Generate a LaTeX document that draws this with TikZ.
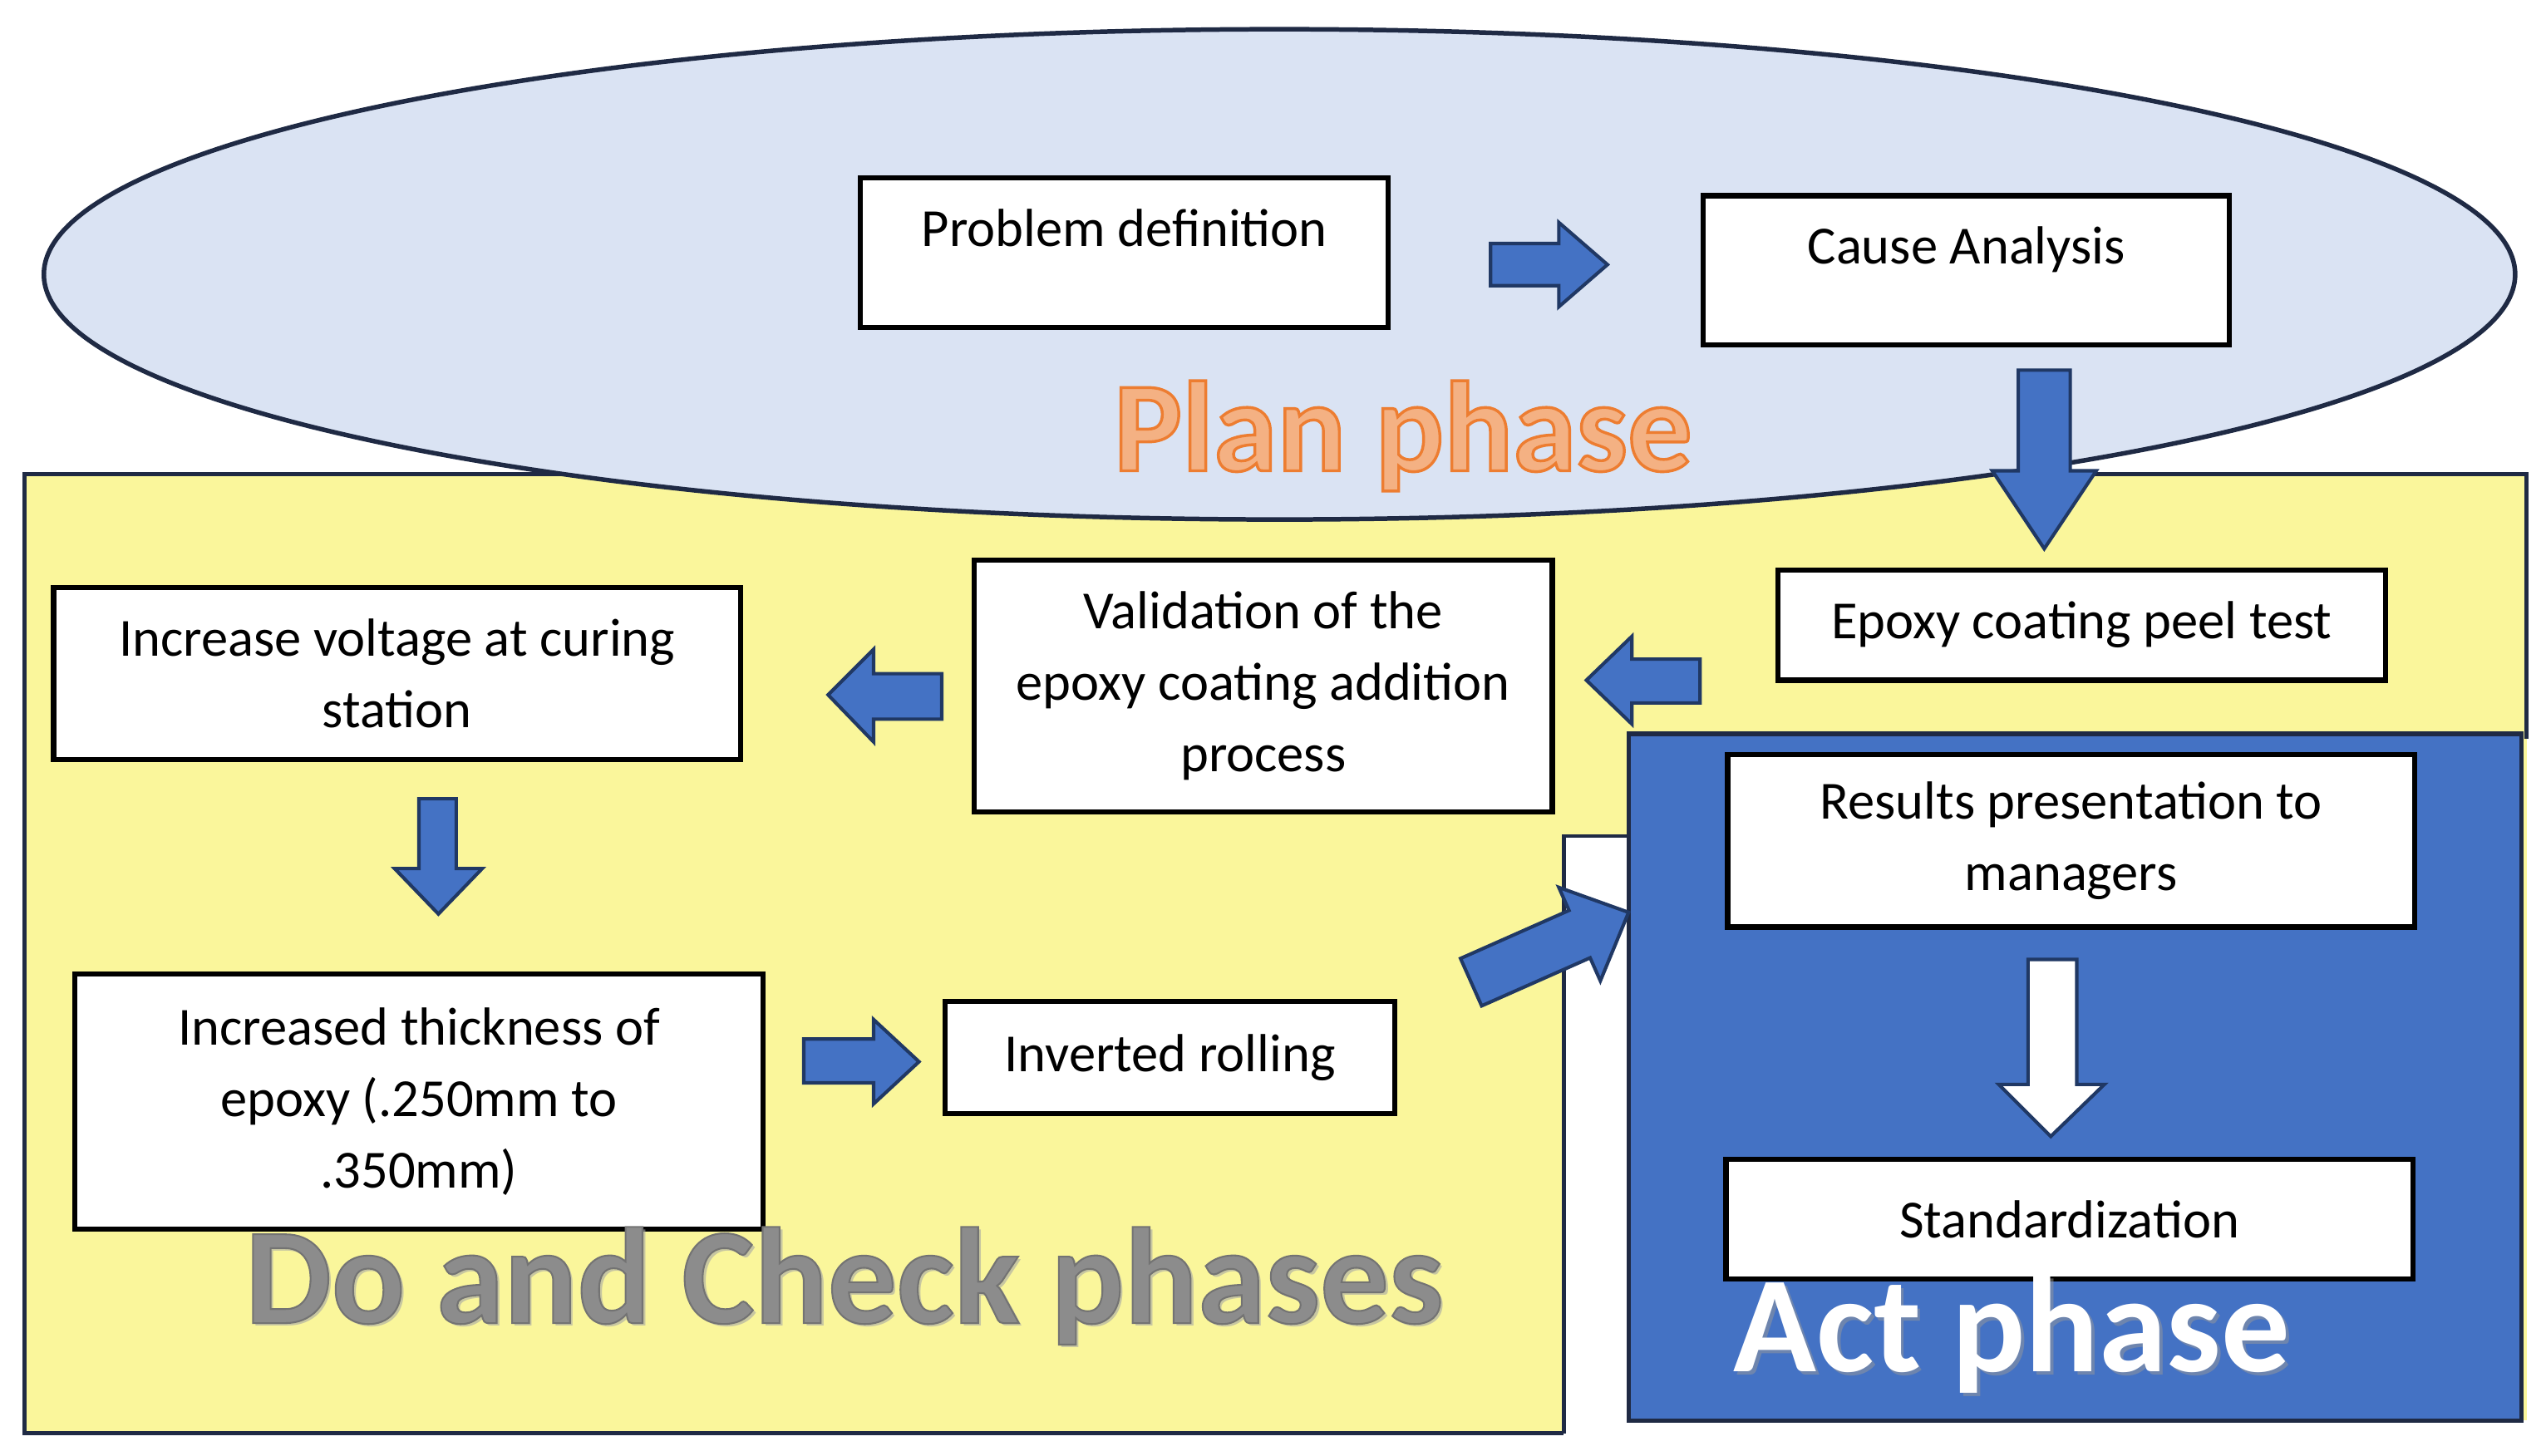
\documentclass[tikz,border=0pt]{standalone}
\usepackage{fontspec}
\setmainfont{Carlito}
\definecolor{ellfill}{HTML}{DAE3F3}
\definecolor{navy}{HTML}{1F2A44}
\definecolor{yel}{HTML}{FAF69B}
\definecolor{actblue}{HTML}{4472C4}
\definecolor{arrline}{HTML}{203864}
\definecolor{planfill}{HTML}{F4B183}
\definecolor{dogray}{HTML}{8C8C8C}
\newcommand{\strokedtext}[3]{\special{pdf:literal direct #1 RG #2 w 2 Tr}#3\special{pdf:literal direct 0 Tr}}
\begin{document}
\begin{tikzpicture}[x=0.1mm,y=-0.1mm,
  stepbox/.style={draw=black,line width=0.9pt,fill=white,align=center,inner sep=0pt,
    font=\fontsize{9.4}{12.5}\selectfont},
  topbox/.style={stepbox,text height=4.2mm,text depth=5.0mm,anchor=north},
  barrow/.style={fill=actblue,draw=arrline,line width=0.6pt,line join=miter},
  warrow/.style={fill=white,draw=arrline,line width=0.6pt,line join=miter},
  bigtext/.style={anchor=base,inner sep=0pt,font=\fontsize{24}{28}\selectfont\bfseries}]
\useasboundingbox (0,0) rectangle (1568,896.4);
% regions
\fill[yel] (15,292) rectangle (1556,883);
\draw[navy,line width=0.7pt] (963,883) -- (15,883) -- (15,292) -- (1556,292) -- (1556,455);
\fill[white] (963,515) rectangle (1003,888);
\fill[white] (1003,875) rectangle (1560,890);
\draw[navy,line width=0.7pt] (963,883) -- (963,515) -- (1003,515);
\draw[navy,fill=ellfill,line width=0.8pt] (788,169) ellipse [x radius=761,y radius=151];
\draw[navy,fill=actblue,line width=0.8pt] (1003,452) rectangle (1553,875);
% boxes
\node[topbox,minimum width=32.5mm] (pd) at (692.5,108) {Problem definition};
\node[topbox,minimum width=32.4mm] (ca) at (1211,119) {Cause Analysis};
\node[stepbox,minimum width=37.4mm,minimum height=6.8mm] (ep) at (1282,385) {Epoxy coating peel test};
\node[stepbox,minimum width=35.6mm,minimum height=15.5mm] (va) at (778,422.5) {Validation of the\\epoxy coating addition\\process};
\node[stepbox,minimum width=42.3mm,minimum height=10.6mm] (iv) at (244.5,415) {Increase voltage at curing\\station};
\node[stepbox,minimum width=42.4mm,minimum height=15.7mm] (it) at (258,678.5) {Increased thickness of\\epoxy (.250mm to\\.350mm)};
\node[stepbox,minimum width=27.7mm,minimum height=6.9mm] (ir) at (720.5,651.5) {Inverted rolling};
\node[stepbox,minimum width=42.3mm,minimum height=10.6mm] (rp) at (1275.5,518) {Results presentation to\\managers};
\node[stepbox,minimum width=42.3mm,minimum height=7.4mm] (st) at (1274.5,751) {Standardization};
% block arrows
\draw[barrow] (918,150) -- (960,150) -- (960,137) -- (990,163) -- (960,189) -- (960,176) -- (918,176) -- cycle;
\draw[barrow] (1243,228) -- (1275,228) -- (1275,290) -- (1291,290) -- (1259,338) -- (1227,290) -- (1243,290) -- cycle;
\draw[barrow] (1047,406) -- (1005,406) -- (1005,392) -- (977,419) -- (1005,446) -- (1005,433) -- (1047,433) -- cycle;
\draw[barrow] (580,415) -- (538,415) -- (538,400) -- (510,428) -- (538,457) -- (538,443) -- (580,443) -- cycle;
\draw[barrow] (258,492) -- (281,492) -- (281,535) -- (297,535) -- (270,563) -- (243,535) -- (258,535) -- cycle;
\draw[barrow] (495,640) -- (538,640) -- (538,628) -- (566,654) -- (538,680) -- (538,667) -- (495,667) -- cycle;
\draw[barrow] (899.5,590.4) -- (966.3,560.8) -- (960,546.6) -- (1003,562) -- (985.6,604.2) -- (979.3,590) -- (912.5,619.6) -- cycle;
\draw[warrow] (1249,591) -- (1279,591) -- (1279,668) -- (1296,668) -- (1263,700) -- (1231,668) -- (1249,668) -- cycle;
% phase labels
\node[bigtext,text=planfill,font=\fontsize{22.5}{27}\selectfont\bfseries] (plan) at (864,290) {\strokedtext{0.929 0.490 0.192}{0.5}{Plan phase}};
\node[bigtext,text=black!35,opacity=0.6] (doshadow) at (522,817) {Do and Check phases};
\node[bigtext,text=dogray] (do) at (520,815) {\strokedtext{0.45 0.45 0.45}{0.3}{Do and Check phases}};
\node[bigtext,text=black!40,opacity=0.5] (actshadow) at (1241,847) {Act phase};
\node[bigtext,text=white] (act) at (1239,845) {Act phase};
\end{tikzpicture}
\end{document}
